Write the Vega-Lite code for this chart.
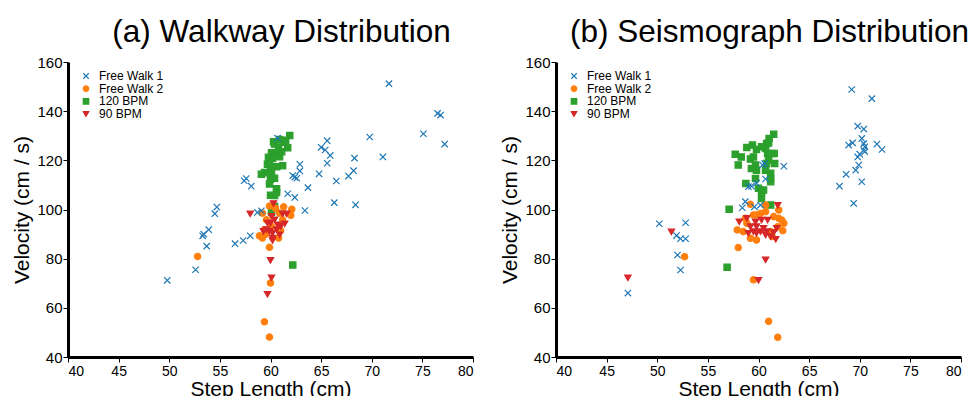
{
  "$schema": "https://vega.github.io/schema/vega-lite/v6.json",
  "padding": {"left": 11, "top": 16, "right": 0, "bottom": -3},
  "autosize": {"type": "pad"},
  "spacing": 83,
  "bounds": "flush",
  "background": "white",
  "config": {
    "font": "Liberation Sans",
    "view": {"stroke": null},
    "title": {"fontSize": 31.5, "fontWeight": "normal", "font": "Liberation Sans", "color": "black", "offset": 7, "dx": 11, "frame": "group"},
    "axis": {
      "grid": false,
      "domainColor": "black",
      "domainWidth": 3,
      "tickColor": "black",
      "tickSize": 5,
      "tickWidth": 1,
      "labelFont": "Liberation Sans",
      "labelFontSize": 14,
      "labelColor": "black",
      "titleFont": "Liberation Sans",
      "titleFontSize": 21,
      "titleFontWeight": "normal",
      "titleColor": "black"
    },
    "axisX": {"labelPadding": 2, "titlePadding": 0},
    "axisY": {"labelPadding": 1, "titlePadding": 4, "labelFontSize": 15},
    "legend": {
      "orient": "top-left",
      "offset": 8,
      "padding": 0,
      "title": null,
      "labelFont": "Liberation Sans",
      "labelFontSize": 12,
      "labelColor": "black",
      "symbolSize": 30,
      "symbolStrokeWidth": 1.2,
      "symbolOffset": 4,
      "rowPadding": 0.67,
      "labelOffset": 7
    }
  },
  "datasets": {
    "walkway": [
      {"s": "120 BPM", "x": 61.9, "y": 130.1}, {"s": "120 BPM", "x": 61.7, "y": 125.1}, {"s": "120 BPM", "x": 61.5, "y": 128.2}, {"s": "120 BPM", "x": 61.2, "y": 127.4}, {"s": "120 BPM", "x": 60.9, "y": 128.5}, {"s": "120 BPM", "x": 60.4, "y": 126.6}, {"s": "120 BPM", "x": 60.3, "y": 127.6}, {"s": "120 BPM", "x": 60.8, "y": 125.3}, {"s": "120 BPM", "x": 61.1, "y": 123.5}, {"s": "120 BPM", "x": 60.6, "y": 122.8}, {"s": "120 BPM", "x": 60.1, "y": 123.1}, {"s": "120 BPM", "x": 59.8, "y": 121.2}, {"s": "120 BPM", "x": 59.9, "y": 119.5}, {"s": "120 BPM", "x": 60.2, "y": 120.8}, {"s": "120 BPM", "x": 60.9, "y": 121.5}, {"s": "120 BPM", "x": 61.2, "y": 117.8}, {"s": "120 BPM", "x": 60.6, "y": 117.4}, {"s": "120 BPM", "x": 59.7, "y": 118.4}, {"s": "120 BPM", "x": 60.0, "y": 116.6}, {"s": "120 BPM", "x": 59.1, "y": 114.3}, {"s": "120 BPM", "x": 59.4, "y": 115.0}, {"s": "120 BPM", "x": 60.1, "y": 115.0}, {"s": "120 BPM", "x": 60.4, "y": 112.7}, {"s": "120 BPM", "x": 60.0, "y": 112.3}, {"s": "120 BPM", "x": 59.9, "y": 110.4}, {"s": "120 BPM", "x": 60.6, "y": 108.4}, {"s": "120 BPM", "x": 60.6, "y": 106.9}, {"s": "120 BPM", "x": 60.0, "y": 105.8}, {"s": "120 BPM", "x": 60.4, "y": 105.7}, {"s": "120 BPM", "x": 60.4, "y": 101.2}, {"s": "120 BPM", "x": 60.1, "y": 98.9}, {"s": "120 BPM", "x": 62.2, "y": 77.4},
      {"s": "Free Walk 2", "x": 52.8, "y": 80.9}, {"s": "Free Walk 2", "x": 59.4, "y": 54.3}, {"s": "Free Walk 2", "x": 59.9, "y": 48.1}, {"s": "Free Walk 2", "x": 60.0, "y": 70.1}, {"s": "Free Walk 2", "x": 59.9, "y": 84.6}, {"s": "Free Walk 2", "x": 58.9, "y": 89.3}, {"s": "Free Walk 2", "x": 59.2, "y": 88.4}, {"s": "Free Walk 2", "x": 59.9, "y": 101.4}, {"s": "Free Walk 2", "x": 61.3, "y": 101.1}, {"s": "Free Walk 2", "x": 62.1, "y": 100.1}, {"s": "Free Walk 2", "x": 62.0, "y": 97.6}, {"s": "Free Walk 2", "x": 59.2, "y": 98.5}, {"s": "Free Walk 2", "x": 60.8, "y": 88.4}, {"s": "Free Walk 2", "x": 59.6, "y": 95.8}, {"s": "Free Walk 2", "x": 61.2, "y": 95.8}, {"s": "Free Walk 2", "x": 60.9, "y": 98.5}, {"s": "Free Walk 2", "x": 60.5, "y": 100.5}, {"s": "Free Walk 2", "x": 59.4, "y": 91.8}, {"s": "Free Walk 2", "x": 60.1, "y": 93.1}, {"s": "Free Walk 2", "x": 59.5, "y": 89.9}, {"s": "Free Walk 2", "x": 61.0, "y": 91.5},
      {"s": "90 BPM", "x": 58.0, "y": 98.2}, {"s": "90 BPM", "x": 60.0, "y": 79.3}, {"s": "90 BPM", "x": 60.1, "y": 72.2}, {"s": "90 BPM", "x": 59.7, "y": 65.5}, {"s": "90 BPM", "x": 60.3, "y": 102.4}, {"s": "90 BPM", "x": 61.2, "y": 98.2}, {"s": "90 BPM", "x": 61.6, "y": 98.2}, {"s": "90 BPM", "x": 61.4, "y": 94.2}, {"s": "90 BPM", "x": 59.6, "y": 91.8}, {"s": "90 BPM", "x": 59.9, "y": 91.1}, {"s": "90 BPM", "x": 60.2, "y": 90.4}, {"s": "90 BPM", "x": 60.6, "y": 91.8}, {"s": "90 BPM", "x": 60.2, "y": 88.4}, {"s": "90 BPM", "x": 60.9, "y": 89.7}, {"s": "90 BPM", "x": 60.0, "y": 94.5}, {"s": "90 BPM", "x": 60.4, "y": 95.8}, {"s": "90 BPM", "x": 59.7, "y": 94.5}, {"s": "90 BPM", "x": 60.7, "y": 93.8}, {"s": "90 BPM", "x": 60.1, "y": 97.2}, {"s": "90 BPM", "x": 61.0, "y": 93.1}, {"s": "90 BPM", "x": 59.3, "y": 91.1}, {"s": "90 BPM", "x": 60.2, "y": 87.4},
      {"s": "Free Walk 1", "x": 49.8, "y": 71.2}, {"s": "Free Walk 1", "x": 52.6, "y": 75.5}, {"s": "Free Walk 1", "x": 53.3, "y": 89.3}, {"s": "Free Walk 1", "x": 53.4, "y": 90.0}, {"s": "Free Walk 1", "x": 53.7, "y": 85.1}, {"s": "Free Walk 1", "x": 53.9, "y": 91.8}, {"s": "Free Walk 1", "x": 54.5, "y": 98.3}, {"s": "Free Walk 1", "x": 54.7, "y": 101.0}, {"s": "Free Walk 1", "x": 56.5, "y": 86.1}, {"s": "Free Walk 1", "x": 57.3, "y": 87.4}, {"s": "Free Walk 1", "x": 58.0, "y": 89.3}, {"s": "Free Walk 1", "x": 57.4, "y": 111.7}, {"s": "Free Walk 1", "x": 57.6, "y": 112.6}, {"s": "Free Walk 1", "x": 58.1, "y": 109.5}, {"s": "Free Walk 1", "x": 58.7, "y": 98.8}, {"s": "Free Walk 1", "x": 59.1, "y": 99.5}, {"s": "Free Walk 1", "x": 60.7, "y": 129.0}, {"s": "Free Walk 1", "x": 61.7, "y": 106.4}, {"s": "Free Walk 1", "x": 62.2, "y": 113.8}, {"s": "Free Walk 1", "x": 62.4, "y": 113.2}, {"s": "Free Walk 1", "x": 62.6, "y": 112.7}, {"s": "Free Walk 1", "x": 62.9, "y": 118.4}, {"s": "Free Walk 1", "x": 62.9, "y": 115.7}, {"s": "Free Walk 1", "x": 62.4, "y": 104.9}, {"s": "Free Walk 1", "x": 63.4, "y": 99.6}, {"s": "Free Walk 1", "x": 63.7, "y": 108.9}, {"s": "Free Walk 1", "x": 64.8, "y": 114.5}, {"s": "Free Walk 1", "x": 65.0, "y": 125.3}, {"s": "Free Walk 1", "x": 65.4, "y": 124.2}, {"s": "Free Walk 1", "x": 65.6, "y": 128.0}, {"s": "Free Walk 1", "x": 65.6, "y": 118.8}, {"s": "Free Walk 1", "x": 65.9, "y": 122.0}, {"s": "Free Walk 1", "x": 66.3, "y": 102.8}, {"s": "Free Walk 1", "x": 66.5, "y": 111.6}, {"s": "Free Walk 1", "x": 67.7, "y": 113.6}, {"s": "Free Walk 1", "x": 68.2, "y": 115.8}, {"s": "Free Walk 1", "x": 68.3, "y": 120.9}, {"s": "Free Walk 1", "x": 68.4, "y": 101.9}, {"s": "Free Walk 1", "x": 69.8, "y": 129.5}, {"s": "Free Walk 1", "x": 71.1, "y": 121.4}, {"s": "Free Walk 1", "x": 71.7, "y": 151.2}, {"s": "Free Walk 1", "x": 75.1, "y": 130.8}, {"s": "Free Walk 1", "x": 76.5, "y": 139.1}, {"s": "Free Walk 1", "x": 76.8, "y": 138.4}, {"s": "Free Walk 1", "x": 77.2, "y": 126.6}
    ],
    "seismo": [
      {"s": "120 BPM", "x": 56.9, "y": 76.5}, {"s": "120 BPM", "x": 57.1, "y": 100.1}, {"s": "120 BPM", "x": 57.7, "y": 122.5}, {"s": "120 BPM", "x": 58.0, "y": 118.1}, {"s": "120 BPM", "x": 58.3, "y": 121.4}, {"s": "120 BPM", "x": 58.75, "y": 110.6}, {"s": "120 BPM", "x": 58.85, "y": 125.2}, {"s": "120 BPM", "x": 59.4, "y": 126.2}, {"s": "120 BPM", "x": 59.2, "y": 120.5}, {"s": "120 BPM", "x": 59.5, "y": 121.4}, {"s": "120 BPM", "x": 59.7, "y": 118.1}, {"s": "120 BPM", "x": 59.3, "y": 116.7}, {"s": "120 BPM", "x": 59.8, "y": 116.0}, {"s": "120 BPM", "x": 59.7, "y": 112.6}, {"s": "120 BPM", "x": 59.8, "y": 124.4}, {"s": "120 BPM", "x": 60.0, "y": 108.6}, {"s": "120 BPM", "x": 60.3, "y": 107.2}, {"s": "120 BPM", "x": 60.3, "y": 104.5}, {"s": "120 BPM", "x": 60.5, "y": 107.9}, {"s": "120 BPM", "x": 60.3, "y": 125.5}, {"s": "120 BPM", "x": 60.7, "y": 124.8}, {"s": "120 BPM", "x": 60.8, "y": 126.8}, {"s": "120 BPM", "x": 61.0, "y": 127.1}, {"s": "120 BPM", "x": 61.05, "y": 128.9}, {"s": "120 BPM", "x": 60.9, "y": 122.8}, {"s": "120 BPM", "x": 61.3, "y": 122.8}, {"s": "120 BPM", "x": 61.5, "y": 130.6}, {"s": "120 BPM", "x": 61.55, "y": 122.8}, {"s": "120 BPM", "x": 61.6, "y": 118.7}, {"s": "120 BPM", "x": 61.0, "y": 120.1}, {"s": "120 BPM", "x": 61.2, "y": 114.7}, {"s": "120 BPM", "x": 61.2, "y": 111.3}, {"s": "120 BPM", "x": 61.2, "y": 112.6}, {"s": "120 BPM", "x": 60.7, "y": 116.0}, {"s": "120 BPM", "x": 61.2, "y": 101.8}, {"s": "120 BPM", "x": 60.8, "y": 118.7},
      {"s": "Free Walk 2", "x": 52.7, "y": 80.8}, {"s": "Free Walk 2", "x": 58.0, "y": 84.5}, {"s": "Free Walk 2", "x": 59.5, "y": 71.4}, {"s": "Free Walk 2", "x": 61.0, "y": 54.5}, {"s": "Free Walk 2", "x": 61.9, "y": 48.0}, {"s": "Free Walk 2", "x": 59.2, "y": 102.1}, {"s": "Free Walk 2", "x": 57.9, "y": 91.7}, {"s": "Free Walk 2", "x": 58.5, "y": 91.0}, {"s": "Free Walk 2", "x": 59.2, "y": 88.3}, {"s": "Free Walk 2", "x": 59.8, "y": 87.6}, {"s": "Free Walk 2", "x": 59.5, "y": 97.8}, {"s": "Free Walk 2", "x": 60.2, "y": 98.4}, {"s": "Free Walk 2", "x": 60.7, "y": 99.1}, {"s": "Free Walk 2", "x": 60.7, "y": 101.8}, {"s": "Free Walk 2", "x": 61.5, "y": 97.1}, {"s": "Free Walk 2", "x": 62.0, "y": 99.8}, {"s": "Free Walk 2", "x": 62.0, "y": 96.4}, {"s": "Free Walk 2", "x": 62.3, "y": 95.7}, {"s": "Free Walk 2", "x": 62.5, "y": 94.4}, {"s": "Free Walk 2", "x": 62.4, "y": 91.4}, {"s": "Free Walk 2", "x": 61.9, "y": 93.0}, {"s": "Free Walk 2", "x": 58.85, "y": 94.4}, {"s": "Free Walk 2", "x": 61.2, "y": 91.0}, {"s": "Free Walk 2", "x": 61.35, "y": 89.0}, {"s": "Free Walk 2", "x": 58.7, "y": 96.4}, {"s": "Free Walk 2", "x": 59.8, "y": 97.8},
      {"s": "90 BPM", "x": 47.1, "y": 72.2}, {"s": "90 BPM", "x": 51.4, "y": 90.9}, {"s": "90 BPM", "x": 58.1, "y": 95.0}, {"s": "90 BPM", "x": 60.7, "y": 79.5}, {"s": "90 BPM", "x": 60.0, "y": 71.2}, {"s": "90 BPM", "x": 61.9, "y": 101.7}, {"s": "90 BPM", "x": 61.7, "y": 87.9}, {"s": "90 BPM", "x": 58.85, "y": 96.4}, {"s": "90 BPM", "x": 59.2, "y": 93.0}, {"s": "90 BPM", "x": 59.5, "y": 91.0}, {"s": "90 BPM", "x": 59.8, "y": 93.0}, {"s": "90 BPM", "x": 60.2, "y": 91.0}, {"s": "90 BPM", "x": 60.5, "y": 92.3}, {"s": "90 BPM", "x": 60.8, "y": 91.0}, {"s": "90 BPM", "x": 61.2, "y": 89.0}, {"s": "90 BPM", "x": 60.3, "y": 95.7}, {"s": "90 BPM", "x": 60.9, "y": 95.7}, {"s": "90 BPM", "x": 60.7, "y": 89.6}, {"s": "90 BPM", "x": 59.8, "y": 90.3}, {"s": "90 BPM", "x": 59.0, "y": 90.3}, {"s": "90 BPM", "x": 59.7, "y": 95.0}, {"s": "90 BPM", "x": 61.8, "y": 92.3}, {"s": "90 BPM", "x": 61.5, "y": 90.6},
      {"s": "Free Walk 1", "x": 47.1, "y": 66.0}, {"s": "Free Walk 1", "x": 50.2, "y": 94.2}, {"s": "Free Walk 1", "x": 52.0, "y": 81.5}, {"s": "Free Walk 1", "x": 51.9, "y": 89.4}, {"s": "Free Walk 1", "x": 52.3, "y": 88.1}, {"s": "Free Walk 1", "x": 52.8, "y": 88.1}, {"s": "Free Walk 1", "x": 52.8, "y": 94.6}, {"s": "Free Walk 1", "x": 52.3, "y": 75.4}, {"s": "Free Walk 1", "x": 58.4, "y": 100.7}, {"s": "Free Walk 1", "x": 58.7, "y": 103.2}, {"s": "Free Walk 1", "x": 59.0, "y": 109.3}, {"s": "Free Walk 1", "x": 59.3, "y": 109.5}, {"s": "Free Walk 1", "x": 59.8, "y": 110.7}, {"s": "Free Walk 1", "x": 59.6, "y": 101.1}, {"s": "Free Walk 1", "x": 60.2, "y": 101.8}, {"s": "Free Walk 1", "x": 60.7, "y": 112.4}, {"s": "Free Walk 1", "x": 60.4, "y": 118.1}, {"s": "Free Walk 1", "x": 60.6, "y": 118.7}, {"s": "Free Walk 1", "x": 62.5, "y": 117.6}, {"s": "Free Walk 1", "x": 68.0, "y": 109.5}, {"s": "Free Walk 1", "x": 68.65, "y": 114.3}, {"s": "Free Walk 1", "x": 68.9, "y": 126.2}, {"s": "Free Walk 1", "x": 69.3, "y": 127.1}, {"s": "Free Walk 1", "x": 69.2, "y": 148.8}, {"s": "Free Walk 1", "x": 69.4, "y": 102.5}, {"s": "Free Walk 1", "x": 69.6, "y": 116.0}, {"s": "Free Walk 1", "x": 69.8, "y": 121.4}, {"s": "Free Walk 1", "x": 69.8, "y": 133.9}, {"s": "Free Walk 1", "x": 69.9, "y": 118.1}, {"s": "Free Walk 1", "x": 70.0, "y": 122.5}, {"s": "Free Walk 1", "x": 70.2, "y": 128.9}, {"s": "Free Walk 1", "x": 70.2, "y": 111.3}, {"s": "Free Walk 1", "x": 70.4, "y": 132.7}, {"s": "Free Walk 1", "x": 70.4, "y": 126.8}, {"s": "Free Walk 1", "x": 70.5, "y": 125.5}, {"s": "Free Walk 1", "x": 70.4, "y": 124.1}, {"s": "Free Walk 1", "x": 70.5, "y": 123.5}, {"s": "Free Walk 1", "x": 71.2, "y": 145.1}, {"s": "Free Walk 1", "x": 71.7, "y": 126.6}, {"s": "Free Walk 1", "x": 72.2, "y": 124.4}
    ]
  },
  "hconcat": [
    {
      "title": "(a) Walkway Distribution",
      "width": 405,
      "height": 295,
      "data": {"name": "walkway"},
      "mark": {"type": "point", "filled": true, "size": 40, "strokeWidth": 1.2, "opacity": 1},
      "encoding": {
        "x": {"field": "x", "type": "quantitative", "title": "Step Length (cm)", "scale": {"domain": [40, 80], "nice": false, "zero": false}, "axis": {"values": [40, 45, 50, 55, 60, 65, 70, 75, 80]}},
        "y": {"field": "y", "type": "quantitative", "title": "Velocity (cm / s)", "scale": {"domain": [40, 160], "nice": false, "zero": false}, "axis": {"values": [40, 60, 80, 100, 120, 140, 160]}},
        "color": {"field": "s", "type": "nominal", "scale": {"domain": ["Free Walk 1", "Free Walk 2", "120 BPM", "90 BPM"], "range": ["#1f77b4", "#ff7f0e", "#2ca02c", "#d62728"]}},
        "stroke": {"field": "s", "type": "nominal", "scale": {"domain": ["Free Walk 1", "Free Walk 2", "120 BPM", "90 BPM"], "range": ["#1f77b4", "#ff7f0e", "#2ca02c", "#d62728"]}},
        "shape": {"field": "s", "type": "nominal", "scale": {"domain": ["Free Walk 1", "Free Walk 2", "120 BPM", "90 BPM"], "range": ["M-1,-1L1,1M-1,1L1,-1", "circle", "square", "triangle-down"]}}
      }
    },
    {
      "title": "(b) Seismograph Distribution",
      "width": 405,
      "height": 295,
      "data": {"name": "seismo"},
      "mark": {"type": "point", "filled": true, "size": 40, "strokeWidth": 1.2, "opacity": 1},
      "encoding": {
        "x": {"field": "x", "type": "quantitative", "title": "Step Length (cm)", "scale": {"domain": [40, 80], "nice": false, "zero": false}, "axis": {"values": [40, 45, 50, 55, 60, 65, 70, 75, 80]}},
        "y": {"field": "y", "type": "quantitative", "title": "Velocity (cm / s)", "scale": {"domain": [40, 160], "nice": false, "zero": false}, "axis": {"values": [40, 60, 80, 100, 120, 140, 160]}},
        "color": {"field": "s", "type": "nominal", "scale": {"domain": ["Free Walk 1", "Free Walk 2", "120 BPM", "90 BPM"], "range": ["#1f77b4", "#ff7f0e", "#2ca02c", "#d62728"]}},
        "stroke": {"field": "s", "type": "nominal", "scale": {"domain": ["Free Walk 1", "Free Walk 2", "120 BPM", "90 BPM"], "range": ["#1f77b4", "#ff7f0e", "#2ca02c", "#d62728"]}},
        "shape": {"field": "s", "type": "nominal", "scale": {"domain": ["Free Walk 1", "Free Walk 2", "120 BPM", "90 BPM"], "range": ["M-1,-1L1,1M-1,1L1,-1", "circle", "square", "triangle-down"]}}
      }
    }
  ],
  "resolve": {
    "scale": {"color": "independent", "stroke": "independent", "shape": "independent"},
    "legend": {"color": "independent", "stroke": "independent", "shape": "independent"}
  }
}
